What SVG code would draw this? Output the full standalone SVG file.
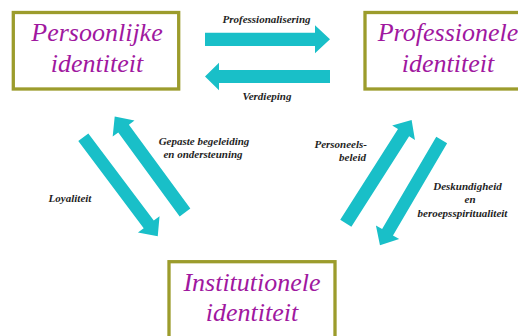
<svg xmlns="http://www.w3.org/2000/svg" width="518" height="336" viewBox="0 0 518 336">
<style>
.box{fill:#fff;stroke:#9c9c2c;stroke-width:3.3}
.t{font-family:'Liberation Serif','Times New Roman','DejaVu Serif',serif;font-style:italic;font-size:26px;fill:#a0189f;text-anchor:middle}
.arr{fill:#19bfc8}
.lbl{font-family:'Liberation Serif','Times New Roman','DejaVu Serif',serif;font-style:italic;font-weight:bold;font-size:11px;fill:#1e1e1e}
</style>
<rect width="518" height="336" fill="#fff"/>
<g id="connectors">
<polygon class="arr" transform="translate(205,39.3)" points="0,-6.6 110,-6.6 110,-14 125,0 110,14 110,6.6 0,6.6"/>
<polygon class="arr" transform="translate(330,76.5) rotate(180)" points="0,-6.6 111,-6.6 111,-13.7 125,0 111,13.7 111,6.6 0,6.6"/>
<polygon class="arr" transform="translate(83.3,137.2) rotate(53.1)" points="0,-6.3 109,-6.3 109,-13.5 124,0 109,13.5 109,6.3 0,6.3"/>
<polygon class="arr" transform="translate(185,212.5) rotate(233.8)" points="0,-6.6 104,-6.6 104,-13.5 119,0 104,13.5 104,6.6 0,6.6"/>
<polygon class="arr" transform="translate(345.8,223.3) rotate(-57.5)" points="0,-6.6 107.5,-6.6 107.5,-13.5 122.5,0 107.5,13.5 107.5,6.6 0,6.6"/>
<polygon class="arr" transform="translate(441.7,140) rotate(120.4)" points="0,-6.3 107,-6.3 107,-13.5 122,0 107,13.5 107,6.3 0,6.3"/>
<text class="lbl" x="266.5" y="23" text-anchor="middle">Professionalisering</text>
<text class="lbl" x="267" y="99.5" text-anchor="middle">Verdieping</text>
<text class="lbl" x="204" y="145" text-anchor="middle">Gepaste begeleiding</text>
<text class="lbl" x="203" y="158" text-anchor="middle">en ondersteuning</text>
<text class="lbl" x="70" y="202" text-anchor="middle">Loyaliteit</text>
<text class="lbl" x="367" y="148" text-anchor="end">Personeels-</text>
<text class="lbl" x="366" y="160.5" text-anchor="end">beleid</text>
<text class="lbl" x="467.5" y="190" text-anchor="middle">Deskundigheid</text>
<text class="lbl" x="470" y="203" text-anchor="middle">en</text>
<text class="lbl" x="462.5" y="217" text-anchor="middle">beroepsspiritualiteit</text>
</g>
<g id="persoonlijke">
<rect class="box" x="13.3" y="12.5" width="165.4" height="76.5"/>
<text class="t" x="97" y="40.5">Persoonlijke</text>
<text class="t" x="97" y="71.5">identiteit</text>
</g>
<g id="professionele">
<rect class="box" x="365" y="12.5" width="166" height="76.5"/>
<text class="t" x="448" y="40.5">Professionele</text>
<text class="t" x="448" y="71.5">identiteit</text>
</g>
<g id="institutionele">
<rect class="box" x="169" y="261.7" width="166" height="77"/>
<text class="t" x="252" y="290.5">Institutionele</text>
<text class="t" x="252" y="321">identiteit</text>
</g>
</svg>
